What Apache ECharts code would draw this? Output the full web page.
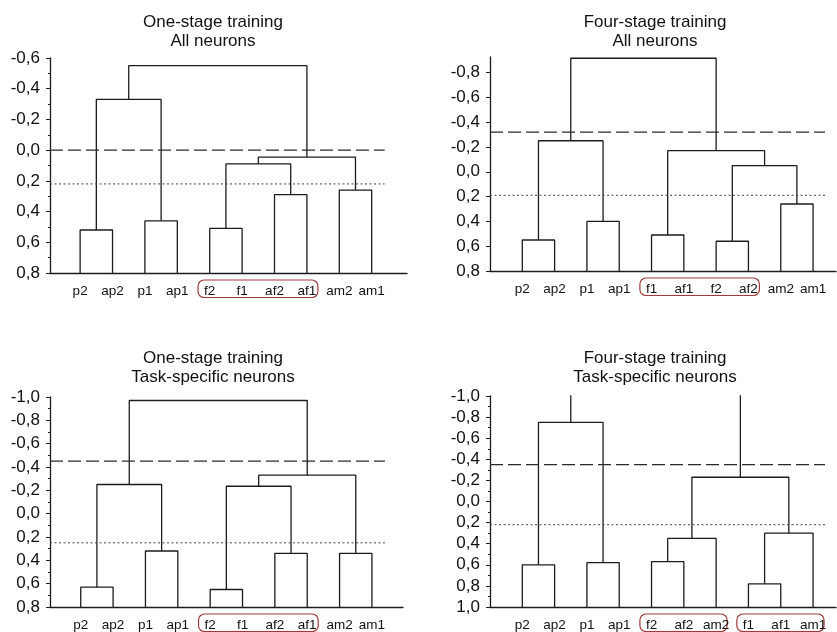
<!DOCTYPE html>
<html>
<head>
<meta charset="utf-8">
<script src="https://cdn.jsdelivr.net/npm/echarts@6/dist/echarts.min.js"></script>
<style>
html,body{margin:0;padding:0;background:#fff;}
#c{width:837px;height:632px;}
</style>
</head>
<body>
<div id="c"></div>
<script>
// ---------- data ----------
const titles = [
  'One-stage training\nAll neurons',
  'Four-stage training\nAll neurons',
  'One-stage training\nTask-specific neurons',
  'Four-stage training\nTask-specific neurons'
];
const labelsTL = ['p2','ap2','p1','ap1','f2','f1','af2','af1','am2','am1'];
const labelsTR = ['p2','ap2','p1','ap1','f1','af1','f2','af2','am2','am1'];
const labelsBL = ['p2','ap2','p1','ap1','f2','f1','af2','af1','am2','am1'];
const labelsBR = ['p2','ap2','p1','ap1','f2','af2','am2','f1','af1','am1'];

// merges: [child A, child B, linkage height]; leaves 0..9, merged nodes 10..
const mergesTL = [[0,1,0.52],[2,3,0.46],[4,5,0.51],[6,7,0.29],[8,9,0.26],[10,11,-0.33],[12,13,0.09],[16,14,0.045],[15,17,-0.55]];
const mergesTR = [[0,1,0.55],[2,3,0.40],[4,5,0.51],[6,7,0.56],[8,9,0.26],[13,14,-0.05],[12,15,-0.17],[10,11,-0.25],[17,16,-0.915]];
const mergesBL = [[0,1,0.63],[2,3,0.32],[4,5,0.65],[6,7,0.34],[8,9,0.34],[10,11,-0.25],[12,13,-0.235],[16,14,-0.33],[15,17,-0.97]];
const mergesBR = [[0,1,0.60],[2,3,0.58],[4,5,0.57],[12,6,0.35],[7,8,0.78],[14,9,0.30],[13,15,-0.23],[10,11,-0.75],[17,16,-1.05]];

const dashedCut = [0.0, -0.32, -0.45, -0.35];
const dottedCut = [0.22, 0.19, 0.25, 0.22];

const yMinList = [-0.6, -0.925, -1.0, -1.0];
const yMaxList = [0.8, 0.8, 0.8, 1.0];
const yTicksTR = [-0.8,-0.6,-0.4,-0.2,0,0.2,0.4,0.6,0.8];

// label groups outlined in red (1-based leaf positions)
const boxesTL = [[5,8]];
const boxesTR = [[5,8]];
const boxesBL = [[5,8]];
const boxesBR = [[5,7],[8,10]];

// ---------- layout ----------
const FONT = '"Liberation Sans", Arial, Helvetica, sans-serif';
const INK = '#1c1c1c';
const grids = [
  {left:50, top:58, width:357, height:215},
  {left:490, top:57, width:346, height:214},
  {left:50, top:397, width:353, height:211},
  {left:490, top:396, width:346, height:211}
];
const xMin = [0.07, 0, 0.05, 0];
const xMax = [11.09, 10.71, 10.96, 10.71];
const titlePos = [[208,8],[650,8],[208,344],[650,344]];
const cutEnd = [10.4, 10.37, 10.4, 10.37];

const panels = [
  {labels: labelsTL, merges: mergesTL, boxes: boxesTL},
  {labels: labelsTR, merges: mergesTR, boxes: boxesTR},
  {labels: labelsBL, merges: mergesBL, boxes: boxesBL},
  {labels: labelsBR, merges: mergesBR, boxes: boxesBR}
];

function fmt(v){ if (Math.abs(v) < 1e-9) v = 0; return v.toFixed(1).replace('.', ','); }

const option = {
  animation: false,
  backgroundColor: '#fff',
  title: [], grid: [], xAxis: [], yAxis: [], series: []
};

panels.forEach((p, i) => {
  option.title.push({
    text: titles[i], left: titlePos[i][0], top: titlePos[i][1], textAlign: 'center',
    textStyle: {fontFamily: FONT, fontSize: 17, fontWeight: 'normal', color: '#111', lineHeight: 19}
  });
  option.grid.push(Object.assign({containLabel: false}, grids[i]));
  const labels = p.labels;
  option.xAxis.push({
    type: 'value', gridIndex: i, min: xMin[i], max: xMax[i],
    axisLine: {show: true, onZero: false, lineStyle: {color: INK, width: 1.3}},
    axisTick: {show: false},
    splitLine: {show: false},
    axisLabel: {
      customValues: labels.map((_, k) => k + 1),
      formatter: v => labels[Math.round(v) - 1] || '',
      fontFamily: FONT, fontSize: 13.5, color: '#111', margin: 11
    }
  });
  const ya = {
    type: 'value', gridIndex: i, inverse: true, min: yMinList[i], max: yMaxList[i],
    axisLine: {show: true, onZero: false, lineStyle: {color: INK, width: 1.3}},
    axisTick: {show: true, length: 4, lineStyle: {color: INK}},
    splitLine: {show: false},
    axisLabel: {formatter: fmt, fontFamily: FONT, fontSize: 17, color: '#111', margin: 10}
  };
  if (i === 1) {
    ya.axisLabel.customValues = yTicksTR;
    ya.axisTick.customValues = yTicksTR;
  } else {
    ya.interval = 0.2;
    ya.minorTick = {show: true, splitNumber: 2, length: 2, lineStyle: {color: INK}};
  }
  option.yAxis.push(ya);

  // dendrogram links
  const leafY = yMaxList[i];
  const nx = [], ny = [];
  labels.forEach((_, k) => { nx.push(k + 1); ny.push(leafY); });
  p.merges.forEach(m => {
    const a = m[0], b = m[1], h = m[2];
    option.series.push({
      type: 'line', xAxisIndex: i, yAxisIndex: i, symbol: 'none', silent: true,
      clip: true,
      lineStyle: {color: INK, width: 1.3},
      data: [[nx[a], ny[a]], [nx[a], h], [nx[b], h], [nx[b], ny[b]]]
    });
    nx.push((nx[a] + nx[b]) / 2); ny.push(h);
  });
  // cut lines
  option.series.push({
    type: 'line', xAxisIndex: i, yAxisIndex: i, symbol: 'none', silent: true,
    lineStyle: {color: '#2a2a2a', width: 1.3, type: [13, 5]},
    data: [[xMin[i], dashedCut[i]], [cutEnd[i], dashedCut[i]]]
  });
  option.series.push({
    type: 'line', xAxisIndex: i, yAxisIndex: i, symbol: 'none', silent: true,
    lineStyle: {color: '#444', width: 1, type: [2, 2.5]},
    data: [[xMin[i], dottedCut[i]], [cutEnd[i], dottedCut[i]]]
  });
});

const chart = echarts.init(document.getElementById('c'), null, {renderer: 'canvas'});
chart.setOption(option);

// red rounded boxes around label groups
const graphics = [];
panels.forEach((p, i) => {
  p.boxes.forEach(b => {
    const a = chart.convertToPixel({gridIndex: i}, [b[0] - 0.36, yMaxList[i]]);
    const c = chart.convertToPixel({gridIndex: i}, [b[1] + 0.34, yMaxList[i]]);
    graphics.push({
      type: 'rect', silent: true,
      shape: {x: a[0], y: a[1] + 7, width: c[0] - a[0], height: 17.5, r: 6},
      style: {fill: 'none', stroke: '#9e3a3a', lineWidth: 1.2}
    });
  });
});
chart.setOption({graphic: graphics});
</script>
</body>
</html>
